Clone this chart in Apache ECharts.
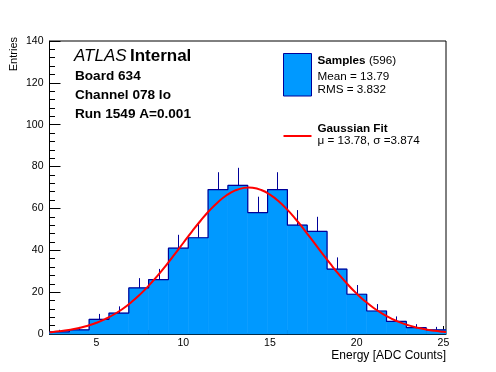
<!DOCTYPE html>
<html><head><meta charset="utf-8">
<script src="https://cdn.jsdelivr.net/npm/echarts@6/dist/echarts.min.js"></script>
<style>html,body{margin:0;padding:0;background:#fff}#c{width:496px;height:372px}</style>
</head><body><div id="c"></div>
<script>
// Histogram bin edges (ADC counts) and entries per bin
const binEdges = [2.29, 3.433, 4.576, 5.719, 6.862, 8.005, 9.148, 10.291, 11.434, 12.577, 13.72,
                  14.863, 16.006, 17.149, 18.292, 19.435, 20.578, 21.721, 22.864, 24.007, 25.15];
const counts = [1, 2, 7, 10, 22, 26, 41, 46, 69, 71, 58, 69, 52, 49, 31, 19, 11, 6, 3, 2];
const countErrors = [1, 1.4, 2.6, 3.2, 4.7, 5.1, 6.4, 6.8, 8.3, 8.4, 7.6, 8.3, 7.2, 7, 5.6, 4.4, 3.3, 2.4, 1.7, 1.4];
// Gaussian fit curve points
const fitX = [2.3, 2.5, 3, 3.5, 4, 4.5, 5, 5.5, 6, 6.5, 7, 7.5, 8, 8.5, 9, 9.5, 10, 10.5, 11, 11.5, 12, 12.5, 13, 13.5, 13.78,
              14, 14.5, 15, 15.5, 16, 16.5, 17, 17.5, 18, 18.5, 19, 19.5, 20, 20.5, 21, 21.5, 22, 22.5, 23, 23.5, 24, 24.5, 25, 25.15];
const fitY = [0.87, 1.01, 1.46, 2.07, 2.89, 3.97, 5.37, 7.13, 9.32, 11.97, 15.14, 18.82, 23.0, 27.65, 32.7, 38.02, 43.49, 48.92, 54.11, 58.87, 62.99, 66.28, 68.59, 69.82, 70.0,
              69.89, 68.8, 66.61, 63.43, 59.4, 54.71, 49.55, 44.15, 38.68, 33.33, 28.24, 23.53, 19.29, 15.55, 12.33, 9.61, 7.37, 5.56, 4.12, 3.01, 2.16, 1.52, 1.06, 0.94];
const xMajorTicks = [5, 10, 15, 20, 25];
const xMinorTicks = [3, 4, 6, 7, 8, 9, 11, 12, 13, 14, 16, 17, 18, 19, 21, 22, 23, 24];
const xRange = [2.29, 25.15];
const yRange = [0, 140];

const FONT = 'Liberation Sans, Arial, Helvetica, sans-serif';
const FILL = '#0099ff';
const EDGE = '#000099';

const barData = counts.map((v, i) => [binEdges[i], binEdges[i + 1], v]);
const errData = counts.map((v, i) => [(binEdges[i] + binEdges[i + 1]) / 2, v, countErrors[i]]);
const outline = [];
counts.forEach((v, i) => { outline.push([binEdges[i], v]); outline.push([binEdges[i + 1], v]); });
const fitData = fitX.map((x, i) => [x, fitY[i]]);

const chart = echarts.init(document.getElementById('c'), null, {renderer: 'canvas'});
chart.setOption({
  animation: false,
  backgroundColor: '#fff',
  grid: {left: 49.5, right: 50, top: 41, bottom: 38, show: true, borderColor: '#000', borderWidth: 1, backgroundColor: 'transparent'},
  xAxis: [{
    type: 'value', min: xRange[0], max: xRange[1],
    axisLine: {show: true, lineStyle: {color: '#000', width: 1}},
    axisTick: {show: true, inside: true, length: 8, customValues: xMajorTicks, lineStyle: {color: '#000'}},
    axisLabel: {show: true, customValues: xMajorTicks, color: '#000', fontSize: 10.5, fontFamily: FONT, margin: 4},
    splitLine: {show: false}
  }, {
    type: 'value', min: xRange[0], max: xRange[1], position: 'bottom',
    axisLine: {show: false},
    axisTick: {show: true, inside: true, length: 4, customValues: xMinorTicks, lineStyle: {color: '#000'}},
    axisLabel: {show: false},
    splitLine: {show: false}
  }],
  yAxis: {
    type: 'value', min: yRange[0], max: yRange[1], interval: 20,
    axisLine: {show: true, lineStyle: {color: '#000', width: 1}},
    axisTick: {show: true, inside: true, length: 11, lineStyle: {color: '#000'}},
    minorTick: {show: true, splitNumber: 5, length: 5.5, lineStyle: {color: '#000'}},
    axisLabel: {color: '#000', fontSize: 10.5, fontFamily: FONT, margin: 6},
    splitLine: {show: false}
  },
  series: [{
    type: 'custom', z: 1, data: barData, encode: {x: [0, 1], y: 2},
    renderItem: (params, api) => {
      const p0 = api.coord([api.value(0), api.value(2)]);
      const p1 = api.coord([api.value(1), 0]);
      return {type: 'rect', shape: {x: p0[0], y: p0[1], width: p1[0] - p0[0], height: p1[1] - p0[1]},
              style: {fill: FILL, stroke: FILL, lineWidth: 0.6}};
    }
  }, {
    type: 'custom', z: 2, data: errData, encode: {x: 0, y: 1},
    renderItem: (params, api) => {
      const a = api.coord([api.value(0), api.value(1)]);
      const b = api.coord([api.value(0), api.value(1) + api.value(2)]);
      const x = Math.round(a[0]) + 0.5;
      return {type: 'line', shape: {x1: x, y1: a[1], x2: x, y2: b[1]}, style: {stroke: EDGE, lineWidth: 1}};
    }
  }, {
    type: 'line', z: 3, data: outline, symbol: 'none', showSymbol: false,
    lineStyle: {color: EDGE, width: 1.2}
  }, {
    type: 'line', z: 4, data: fitData, symbol: 'none', showSymbol: false, smooth: true,
    lineStyle: {color: '#ff0000', width: 2}
  }],
  graphic: [
    {type: 'text', x: 13.5, y: 37, rotation: Math.PI / 2,
     style: {text: 'Entries', fill: '#000', font: '11px ' + FONT, align: 'right', verticalAlign: 'middle'}},
    {type: 'text', x: 446, y: 356,
     style: {text: 'Energy [ADC Counts]', fill: '#000', font: '12px ' + FONT, align: 'right', verticalAlign: 'middle'}},
    {type: 'text', x: 74, y: 56.5,
     style: {text: '{a|ATLAS} {b|Internal}', verticalAlign: 'middle', align: 'left',
             rich: {a: {fontStyle: 'italic', fontSize: 17, fontFamily: FONT, fill: '#000'},
                    b: {fontWeight: 'bold', fontSize: 17, fontFamily: FONT, fill: '#000'}}}},
    {type: 'text', x: 75, y: 76, style: {text: 'Board 634', fill: '#000', font: 'bold 13.6px ' + FONT, verticalAlign: 'middle'}},
    {type: 'text', x: 75, y: 95, style: {text: 'Channel 078 lo', fill: '#000', font: 'bold 13.6px ' + FONT, verticalAlign: 'middle'}},
    {type: 'text', x: 75, y: 114, style: {text: 'Run 1549 A=0.001', fill: '#000', font: 'bold 13.6px ' + FONT, verticalAlign: 'middle'}},
    {type: 'rect', shape: {x: 283.5, y: 53.5, width: 28, height: 42.5}, style: {fill: FILL, stroke: EDGE, lineWidth: 1}},
    {type: 'text', x: 317.5, y: 61,
     style: {text: '{a|Samples} {b|(596)}', verticalAlign: 'middle',
             rich: {a: {fontWeight: 'bold', fontSize: 11.7, fontFamily: FONT, fill: '#000'},
                    b: {fontSize: 11.7, fontFamily: FONT, fill: '#000'}}}},
    {type: 'text', x: 317.5, y: 77, style: {text: 'Mean = 13.79', fill: '#000', font: '11.7px ' + FONT, verticalAlign: 'middle'}},
    {type: 'text', x: 317.5, y: 89.5, style: {text: 'RMS = 3.832', fill: '#000', font: '11.7px ' + FONT, verticalAlign: 'middle'}},
    {type: 'line', shape: {x1: 283.5, y1: 136, x2: 311.5, y2: 136}, style: {stroke: '#ff0000', lineWidth: 2}},
    {type: 'text', x: 317.5, y: 129, style: {text: 'Gaussian Fit', fill: '#000', font: 'bold 11.7px ' + FONT, verticalAlign: 'middle'}},
    {type: 'text', x: 317.5, y: 141, style: {text: 'μ = 13.78, σ =3.874', fill: '#000', font: '11.7px ' + FONT, verticalAlign: 'middle'}}
  ]
});
</script>
</body></html>
